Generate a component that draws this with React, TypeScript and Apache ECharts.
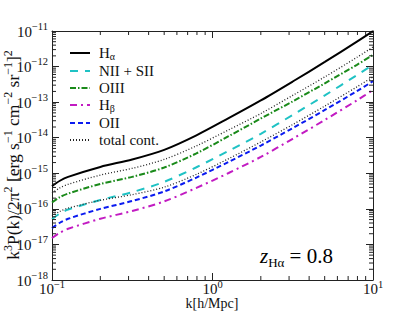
import React, { useEffect, useRef } from "react";
import * as echarts from "echarts";

// k [h/Mpc]
const kValues = [0.1, 0.112, 0.126, 0.2, 0.316, 0.5, 0.794, 1.26, 2.0, 3.16, 5.01, 7.94, 10];
const hAlpha = [4.37e-16, 6.17e-16, 7.94e-16, 1.51e-15, 2.45e-15, 4.57e-15, 1.17e-14, 3.55e-14, 1.12e-13, 3.80e-13, 1.35e-12, 5.01e-12, 9.9e-12];
const niiSii = [5.13e-17, 7.41e-17, 9.55e-17, 1.78e-16, 2.95e-16, 5.75e-16, 1.48e-15, 4.27e-15, 1.29e-14, 4.37e-14, 1.55e-13, 5.75e-13, 1.12e-12];
const oiii = [1.51e-16, 2.14e-16, 2.69e-16, 5.01e-16, 7.94e-16, 1.45e-15, 3.63e-15, 1.10e-14, 3.47e-14, 1.05e-13, 3.39e-13, 1.12e-12, 2.14e-12];
const hBeta = [1.51e-17, 2.14e-17, 2.75e-17, 5.25e-17, 8.71e-17, 1.62e-16, 3.89e-16, 1.02e-15, 2.88e-15, 9.33e-15, 3.16e-14, 1.12e-13, 2.19e-13];
const oii = [2.88e-17, 4.07e-17, 5.25e-17, 1.0e-16, 1.66e-16, 3.09e-16, 7.59e-16, 2.09e-15, 6.03e-15, 1.86e-14, 6.03e-14, 2.04e-13, 3.89e-13];
const totalContA = [2.75e-16, 3.89e-16, 4.90e-16, 8.91e-16, 1.38e-15, 2.45e-15, 5.89e-15, 1.66e-14, 4.79e-14, 1.55e-13, 5.13e-13, 1.82e-12, 3.55e-12];
const totalContB = [6.31e-17, 8.51e-17, 1.05e-16, 1.74e-16, 2.51e-16, 4.07e-16, 9.33e-16, 2.57e-15, 7.59e-15, 2.34e-14, 7.76e-14, 2.69e-13, 5.13e-13];

const X_MIN = 0.1;
const X_MAX = 10;
const Y_MIN = 1e-18;
const Y_MAX = 1e-11;
const xTickValues = [0.1, 1, 10];
const yTickValues = [1e-18, 1e-17, 1e-16, 1e-15, 1e-14, 1e-13, 1e-12, 1e-11];
const xMinorTicks = [0.2, 0.3, 0.4, 0.5, 0.6, 0.7, 0.8, 0.9, 2, 3, 4, 5, 6, 7, 8, 9];
const yDecades = [1e-18, 1e-17, 1e-16, 1e-15, 1e-14, 1e-13, 1e-12];
const yMultipliers = [2, 3, 4, 5, 6, 7, 8, 9];

const SERIF = "'Liberation Serif', 'DejaVu Serif', serif";
const BASE_SIZE = 15;
const SUP_SIZE = 10.5;

const pair = (ys: number[]) => kValues.map((k, i) => [k, ys[i]]);

let measureCtx: CanvasRenderingContext2D | null = null;
const measure = (text: string, size: number) => {
  if (!measureCtx) measureCtx = document.createElement("canvas").getContext("2d");
  if (!measureCtx) return text.length * size * 0.5;
  measureCtx.font = `${size}px ${SERIF}`;
  return measureCtx.measureText(text).width;
};
const expText = (v: number) => {
  const e = Math.round(Math.log10(v));
  return e < 0 ? "\u2212" + Math.abs(e) : String(e);
};

export default function App() {
  const ref = useRef<HTMLDivElement>(null);
  useEffect(() => {
    document.body.style.margin = "0";
    if (!ref.current) return;
    const chart = echarts.init(ref.current, null, { renderer: "svg" });

    const yMinor: number[][] = [];
    yDecades.forEach((d) => yMultipliers.forEach((m) => yMinor.push([1, d * m])));

    const lineSeries = (name: string, data: number[], color: string, type: any, width: number) => ({
      name,
      type: "line",
      data: pair(data),
      symbol: "none",
      smooth: 0.3,
      xAxisIndex: 0,
      yAxisIndex: 0,
      lineStyle: { color, type, width },
      itemStyle: { color },
      z: 3,
    });

    const axisCommon = {
      axisLine: { show: true, lineStyle: { color: "#222", width: 1 } },
      axisTick: { show: true, inside: true, length: 7, lineStyle: { color: "#222", width: 1 } },
      axisLabel: { show: false },
      splitLine: { show: false },
    };

    const txt = (text: string, x: number, y: number, size: number, align: string) => ({
      type: "text",
      x,
      y,
      style: {
        text,
        fontSize: size,
        fontFamily: SERIF,
        fill: "#111",
        align,
        verticalAlign: "middle",
        textAlign: align,
        textVerticalAlign: "middle",
      },
    });

    chart.setOption({
      animation: false,
      backgroundColor: "#fff",
      grid: { left: 52, right: 42, top: 31, bottom: 32, containLabel: false },
      xAxis: [
        { type: "log", logBase: 10, min: X_MIN, max: X_MAX, position: "bottom", ...axisCommon },
        { type: "log", logBase: 10, min: X_MIN, max: X_MAX, position: "top", ...axisCommon },
      ],
      yAxis: [
        { type: "log", logBase: 10, min: Y_MIN, max: Y_MAX, position: "left", ...axisCommon },
        { type: "log", logBase: 10, min: Y_MIN, max: Y_MAX, position: "right", ...axisCommon },
      ],
      legend: {
        orient: "vertical",
        left: 64,
        top: 40,
        itemWidth: 20,
        itemHeight: 10,
        itemGap: 2,
        data: ["Hα", "NII + SII", "OIII", "Hβ", "OII", "total cont."],
        itemStyle: { opacity: 0, color: "rgba(0,0,0,0)", borderWidth: 0 },
        formatter: (name: string) => {
          if (name === "Hα") return "{t|H}{u|α}";
          if (name === "Hβ") return "{t|H}{u|β}";
          return "{t|" + name + "}";
        },
        textStyle: {
          fontFamily: SERIF,
          fontSize: 15,
          color: "#111",
          padding: [0, 0, 0, 4],
          rich: {
            t: { fontSize: 15, fontFamily: SERIF, color: "#111", lineHeight: 16, verticalAlign: "top" },
            u: { fontSize: 10, fontFamily: SERIF, color: "#111", lineHeight: 10, verticalAlign: "bottom" },
          },
        },
      },
      graphic: [
        {
          type: "text",
          x: 12,
          y: 155,
          rotation: Math.PI / 2,
          style: {
            text: "{m|k}{s|3}{m|P(k)/2π}{s|2}{m| [erg s}{s|\u22121}{m| cm}{s|\u22122}{m| sr}{s|\u22121}{m|]}{s|2}",
            align: "center",
            verticalAlign: "middle",
            rich: {
              m: { fontFamily: SERIF, fontSize: 17.5, fill: "#111", color: "#111", lineHeight: 20, verticalAlign: "bottom" },
              s: { fontFamily: SERIF, fontSize: 12, fill: "#111", color: "#111", lineHeight: 10, verticalAlign: "top" },
            },
          },
        },
        {
          type: "text",
          x: 212,
          y: 303.5,
          style: {
            text: "k[h/Mpc]",
            fontFamily: SERIF,
            fontSize: 14,
            fill: "#111",
            align: "center",
            verticalAlign: "middle",
          },
        },
        {
          type: "text",
          left: 260,
          top: 245,
          style: {
            text: "{z|z}{h|Hα}{e| = 0.8}",
            rich: {
              z: { fontFamily: SERIF, fontStyle: "italic", fontSize: 21, color: "#111", lineHeight: 24, verticalAlign: "top" },
              h: { fontFamily: SERIF, fontSize: 13, color: "#111", lineHeight: 12, verticalAlign: "bottom" },
              e: { fontFamily: SERIF, fontSize: 21, color: "#111", lineHeight: 24, verticalAlign: "top" },
            },
          },
        },
      ],
      series: [
        lineSeries("Hα", hAlpha, "#000000", "solid", 2),
        lineSeries("NII + SII", niiSii, "#1fc2c4", [8, 7], 2),
        lineSeries("OIII", oiii, "#1a8a1a", [6, 2, 1.5, 2], 2),
        lineSeries("Hβ", hBeta, "#c21bc2", [7, 4, 2, 4], 2),
        lineSeries("OII", oii, "#0b1bf0", [5, 3], 2),
        lineSeries("total cont.", totalContA, "#222222", [1, 2], 1.3),
        lineSeries("total cont.", totalContB, "#222222", [1, 2], 1.3),
        // minor ticks on x (bottom + top)
        {
          type: "custom",
          xAxisIndex: 0,
          yAxisIndex: 0,
          data: xMinorTicks.map((k) => [k, 1e-15]),
          clip: false,
          silent: true,
          z: 4,
          renderItem: (_p: any, api: any) => {
            const k = api.value(0);
            const b = api.coord([k, Y_MIN]);
            const t = api.coord([k, Y_MAX]);
            const st = { stroke: "#222", lineWidth: 1 };
            return {
              type: "group",
              children: [
                { type: "line", shape: { x1: b[0], y1: b[1], x2: b[0], y2: b[1] - 4 }, style: st },
                { type: "line", shape: { x1: t[0], y1: t[1], x2: t[0], y2: t[1] + 4 }, style: st },
              ],
            };
          },
        },
        // minor ticks on y (left + right)
        {
          type: "custom",
          xAxisIndex: 0,
          yAxisIndex: 0,
          data: yMinor,
          clip: false,
          silent: true,
          z: 4,
          renderItem: (_p: any, api: any) => {
            const v = api.value(1);
            const l = api.coord([X_MIN, v]);
            const r = api.coord([X_MAX, v]);
            const st = { stroke: "#222", lineWidth: 1 };
            return {
              type: "group",
              children: [
                { type: "line", shape: { x1: l[0], y1: l[1], x2: l[0] + 4, y2: l[1] }, style: st },
                { type: "line", shape: { x1: r[0], y1: r[1], x2: r[0] - 4, y2: r[1] }, style: st },
              ],
            };
          },
        },
        // y tick labels 10^n
        {
          type: "custom",
          xAxisIndex: 0,
          yAxisIndex: 0,
          data: yTickValues.map((v) => [1, v]),
          clip: false,
          silent: true,
          z: 5,
          renderItem: (_p: any, api: any) => {
            const v = api.value(1);
            const p = api.coord([X_MIN, v]);
            const sup = expText(v);
            const right = p[0] - 4;
            const sw = measure(sup, SUP_SIZE);
            return {
              type: "group",
              children: [
                txt("10", right - sw, p[1] + 0.5, BASE_SIZE, "right"),
                txt(sup, right, p[1] - 5, SUP_SIZE, "right"),
              ],
            };
          },
        },
        // x tick labels 10^n
        {
          type: "custom",
          xAxisIndex: 0,
          yAxisIndex: 0,
          data: xTickValues.map((k) => [k, 1e-15]),
          clip: false,
          silent: true,
          z: 5,
          renderItem: (_p: any, api: any) => {
            const k = api.value(0);
            const p = api.coord([k, Y_MIN]);
            const sup = expText(k);
            const bw = measure("10", BASE_SIZE);
            const sw = measure(sup, SUP_SIZE);
            const left = p[0] - (bw + sw) / 2;
            return {
              type: "group",
              children: [
                txt("10", left, p[1] + 9, BASE_SIZE, "left"),
                txt(sup, left + bw, p[1] + 4, SUP_SIZE, "left"),
              ],
            };
          },
        },
      ],
    });
    return () => chart.dispose();
  }, []);
  return <div ref={ref} style={{ width: 415, height: 312 }} />;
}
